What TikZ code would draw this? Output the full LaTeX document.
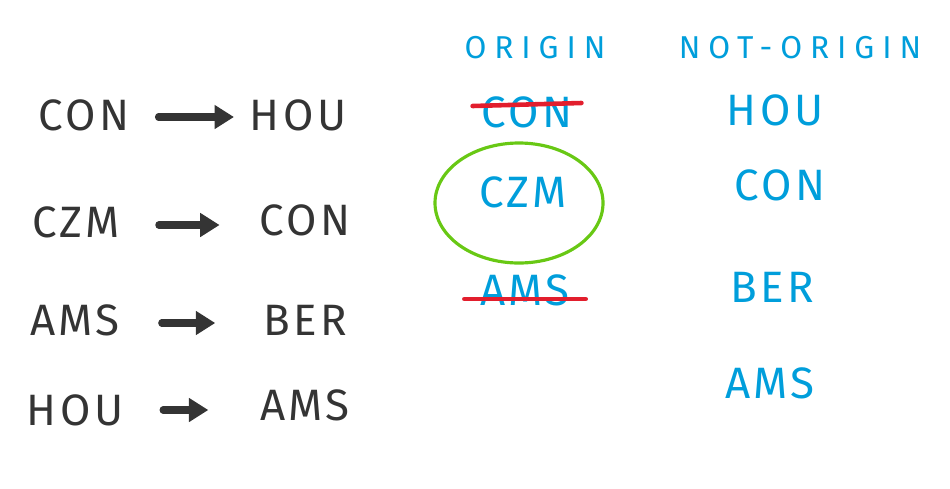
\documentclass[tikz,border=0pt]{standalone}
\usepackage{fontspec}
\setsansfont{Fira Sans}
\newfontfamily\handfont[LetterSpace=8]{Fira Sans}
\newfontfamily\headfont[LetterSpace=25]{Fira Sans}
\usepackage{xcolor}
\usetikzlibrary{arrows.meta,positioning,calc}

\definecolor{inkgray}{RGB}{52,52,52}
\definecolor{inkblue}{RGB}{0,158,219}
\definecolor{inkred}{RGB}{226,30,45}
\definecolor{inkgreen}{RGB}{104,200,20}

\begin{document}
\begin{tikzpicture}[
  x=0.02cm, y=-0.02cm,
  code/.style={font=\handfont\fontsize{25}{25}\selectfont, text=inkgray, inner sep=2pt},
  bluecode/.style={font=\handfont\fontsize{25}{25}\selectfont, text=inkblue, inner sep=2pt},
  head/.style={font=\headfont\fontsize{18}{18}\selectfont, text=inkblue, inner sep=1pt},
  flow/.style={line width=4pt, inkgray, line cap=round, -{Triangle[length=11pt,width=13pt]}},
  strike/.style={line width=2.6pt, inkred, line cap=round},
  ring/.style={line width=1.8pt, inkgreen}
]
\useasboundingbox (0,0) rectangle (950,488);

% routes
\node[code] (a1) at (84,115) {CON};
\node[code] (b1) at (298,115) {HOU};
\node[code] (a2) at (76,222) {CZM};
\node[code] (b2) at (305,220) {CON};
\node[code] (a3) at (75,320) {AMS};
\node[code] (b3) at (305,320) {BER};
\node[code] (a4) at (75,410) {HOU};
\node[code] (b4) at (305,405) {AMS};
\draw[flow] (a1.east) ++(25,2) coordinate (s1) -- ($(b1.west)+(-12,2)$);
\draw[flow] (a2.east) ++(35,3) coordinate (s2) -- ($(b2.west)+(-36,5)$);
\draw[flow] (a3.east) ++(38,3) coordinate (s3) -- ($(b3.west)+(-44,3)$);
\draw[flow] (a4.east) ++(36,0) coordinate (s4) -- ($(b4.west)+(-48,5)$);

% origin column
\node[head] (ho) at (535,48) {ORIGIN};
\node[bluecode] (o1) at (527,112) {CON};
\node[bluecode] (o2) at (523,192) {CZM};
\node[bluecode] (o3) at (525,290) {AMS};
\draw[strike] ($(o1.west)+(-5,-6)$) -- ($(o1.east)+(5,-9)$);
\draw[strike] ($(o3.west)+(-12,9)$) -- ($(o3.east)+(12,9)$);
\draw[ring] ($(o2)+(-4,11)$) ellipse [x radius=84, y radius=60];

% not-origin column
\node[head] (hn) at (800,48) {NOT-ORIGIN};
\node[bluecode] (n1) at (775,110) {HOU};
\node[bluecode] (n2) at (780,185) {CON};
\node[bluecode] (n3) at (772,287) {BER};
\node[bluecode] (n4) at (770,383) {AMS};
\end{tikzpicture}
\end{document}
